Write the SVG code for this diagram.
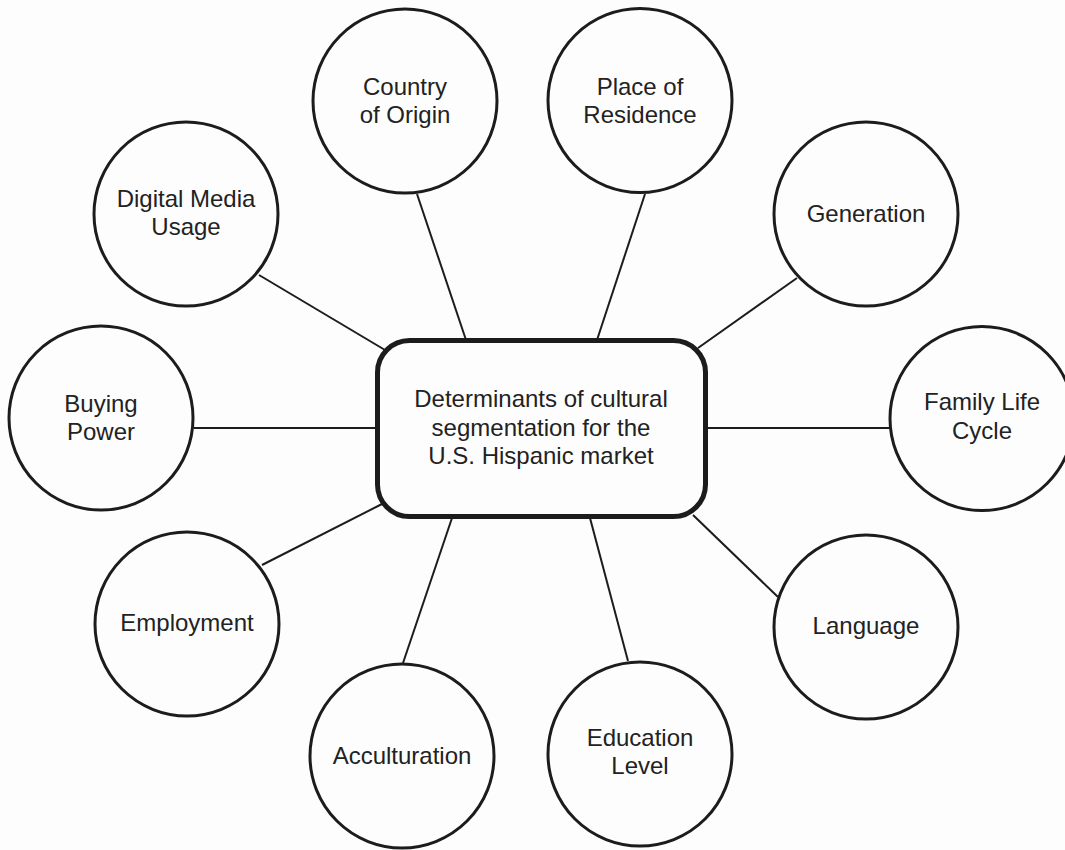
<svg xmlns="http://www.w3.org/2000/svg" width="1065" height="850" viewBox="0 0 1065 850">
<style>
.node circle{fill:#fdfdfd;stroke:#1c1c1c;stroke-width:3}
.hub rect{fill:#fdfdfd;stroke:#1c1c1c;stroke-width:5}
text{font-family:"Liberation Sans",Arial,sans-serif;font-size:24px;fill:#222;text-anchor:middle}
.edges line{stroke:#1c1c1c;stroke-width:2}
</style>
<rect x="0" y="0" width="1065" height="850" fill="#fdfdfd"/>
<g class="edges" id="connectors">
<line x1="417" y1="194" x2="466" y2="340"/>
<line x1="645" y1="194" x2="597" y2="340"/>
<line x1="797" y1="278" x2="698" y2="348"/>
<line x1="708" y1="428" x2="890" y2="428"/>
<line x1="693" y1="515" x2="778" y2="597"/>
<line x1="590" y1="518" x2="628" y2="661"/>
<line x1="452" y1="518" x2="403" y2="663"/>
<line x1="262" y1="565" x2="382" y2="504"/>
<line x1="194" y1="428" x2="377" y2="428"/>
<line x1="259" y1="275" x2="385" y2="350"/>
</g>
<g class="hub" id="center">
<rect x="377.5" y="340.5" width="328" height="176" rx="32"/>
<text x="541" y="407">Determinants of cultural</text>
<text x="541" y="435.5">segmentation for the</text>
<text x="541" y="464">U.S. Hispanic market</text>
</g>
<g class="node" id="country"><circle cx="405" cy="101" r="92"/><text x="405" y="95">Country</text><text x="405" y="123">of Origin</text></g>
<g class="node" id="place"><circle cx="640" cy="100.5" r="92"/><text x="640" y="95">Place of</text><text x="640" y="123">Residence</text></g>
<g class="node" id="generation"><circle cx="866" cy="214" r="92"/><text x="866" y="222">Generation</text></g>
<g class="node" id="family"><circle cx="982" cy="418.5" r="92"/><text x="982" y="410">Family Life</text><text x="982" y="439">Cycle</text></g>
<g class="node" id="language"><circle cx="866" cy="627" r="92"/><text x="866" y="634">Language</text></g>
<g class="node" id="education"><circle cx="640" cy="754" r="92"/><text x="640" y="746">Education</text><text x="640" y="774">Level</text></g>
<g class="node" id="acculturation"><circle cx="402" cy="756" r="92"/><text x="402" y="764">Acculturation</text></g>
<g class="node" id="employment"><circle cx="187" cy="624" r="92"/><text x="187" y="631">Employment</text></g>
<g class="node" id="buying"><circle cx="101" cy="418" r="92"/><text x="101" y="412">Buying</text><text x="101" y="440">Power</text></g>
<g class="node" id="digital"><circle cx="186" cy="214" r="92"/><text x="186" y="207">Digital Media</text><text x="186" y="235">Usage</text></g>
</svg>
